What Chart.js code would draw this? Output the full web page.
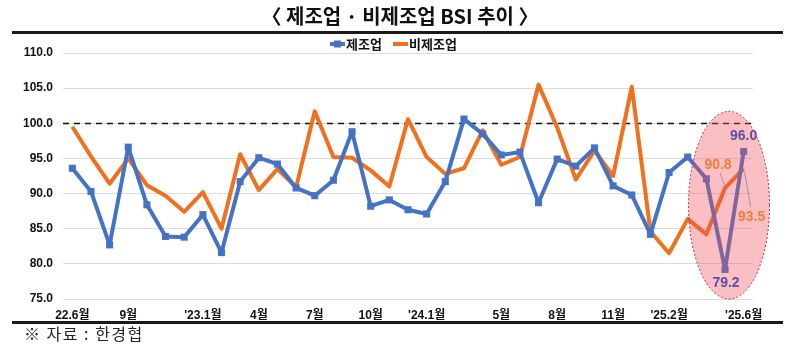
<!DOCTYPE html>
<html lang="ko">
<head>
<meta charset="utf-8">
<title>제조업 · 비제조업 BSI 추이</title>
<script src="https://cdn.jsdelivr.net/npm/chart.js@4/dist/chart.umd.min.js"></script>
<style>
  html, body { margin: 0; padding: 0; background: #fff; }
  #wrap { position: relative; width: 800px; height: 345px; }
</style>
</head>
<body>
<div id="wrap"><canvas id="bsi" width="800" height="345"></canvas></div>
<script>
// Monthly periods, June 2022 to June 2025
const months = [
  '2022-06','2022-07','2022-08','2022-09','2022-10','2022-11','2022-12',
  '2023-01','2023-02','2023-03','2023-04','2023-05','2023-06','2023-07',
  '2023-08','2023-09','2023-10','2023-11','2023-12','2024-01','2024-02',
  '2024-03','2024-04','2024-05','2024-06','2024-07','2024-08','2024-09',
  '2024-10','2024-11','2024-12','2025-01','2025-02','2025-03','2025-04',
  '2025-05','2025-06'
];

// Axis labels shown under the months (blank = no label)
const tickLabels = [
  '22.6월','','','9월','','','',
  "'23.1월",'','','4월','','','7월',
  '','','10월','','',"'24.1월",'',
  '','','5월','','','8월','',
  '','11월','','',"'25.2월",'','',
  '',"'25.6월"
];

const manufacturing = [
  93.6, 90.3, 82.7, 96.6, 88.4, 83.9, 83.8,
  87.0, 81.6, 91.7, 95.1, 94.2, 90.8, 89.7,
  91.9, 98.8, 88.2, 89.1, 87.7, 87.1, 91.7,
  100.6, 98.5, 95.5, 95.9, 88.7, 94.9, 93.9,
  96.5, 91.1, 89.8, 84.2, 93.0, 95.2, 92.1,
  79.2, 96.0
];

const nonManufacturing = [
  99.5, 95.3, 91.4, 95.0, 91.2, 89.7, 87.4,
  90.2, 85.0, 95.6, 90.5, 93.5, 90.9, 101.7,
  95.2, 95.1, 93.3, 91.0, 100.6, 95.2, 92.8,
  93.6, 99.0, 94.1, 95.2, 105.5, 99.4, 92.0,
  96.1, 92.5, 105.2, 84.6, 81.5, 86.4, 84.2,
  90.8, 93.5
];

const seriesNames = ['제조업', '비제조업'];
const yTicks = { min: 75, max: 110, step: 5 };
const baseline = 100;

const BLUE = '#4472C4';
const ORANGE = '#F0701E';
const PURPLE_TXT = '#5E4FA6';
const ORANGE_TXT = '#EE7E3A';
const NUM = "'Liberation Sans', 'Noto Sans CJK KR', sans-serif";
const KR = "'Noto Sans CJK KR', 'Noto Sans', sans-serif";

// Frame: title, rules, legend, footer
const framePlugin = {
  id: 'frame',
  afterDraw(chart) {
    const ctx = chart.ctx;
    ctx.save();
    // title
    ctx.fillStyle = '#111';
    ctx.font = 'bold 20px ' + KR;
    ctx.textAlign = 'center';
    ctx.textBaseline = 'middle';
    ctx.fillText('〈 제조업 · 비제조업 BSI 추이 〉', 400, 16);
    // rules
    ctx.fillStyle = '#1a1a1a';
    ctx.fillRect(12, 31, 771, 3);
    ctx.fillRect(12, 321, 771, 3);
    // legend
    const items = [
      { name: seriesNames[0], color: BLUE, x: 330, marker: true },
      { name: seriesNames[1], color: ORANGE, x: 393, marker: false }
    ];
    ctx.font = 'bold 13px ' + KR;
    ctx.textAlign = 'left';
    items.forEach(it => {
      ctx.strokeStyle = it.color;
      ctx.lineWidth = 4;
      ctx.beginPath();
      ctx.moveTo(it.x, 44);
      ctx.lineTo(it.x + 15, 44);
      ctx.stroke();
      if (it.marker) {
        ctx.fillStyle = it.color;
        ctx.fillRect(it.x + 4, 40.5, 7, 7);
      }
      ctx.fillStyle = '#111';
      ctx.fillText(it.name, it.x + 16, 44);
    });
    // footer
    ctx.fillStyle = '#222';
    ctx.font = '16px ' + KR;
    if ('letterSpacing' in ctx) ctx.letterSpacing = '1.5px';
    ctx.fillText('※ 자료 : 한경협', 24, 334);
    ctx.restore();
  }
};

// Dashed reference line at 100
const baselinePlugin = {
  id: 'baseline',
  beforeDatasetsDraw(chart) {
    const { ctx, chartArea, scales } = chart;
    const y = Math.round(scales.y.getPixelForValue(baseline)) + 0.5;
    ctx.save();
    ctx.strokeStyle = '#111';
    ctx.lineWidth = 1.6;
    ctx.setLineDash([6, 5]);
    ctx.beginPath();
    ctx.moveTo(chartArea.left, y);
    ctx.lineTo(chartArea.right + 2, y);
    ctx.stroke();
    ctx.restore();
  }
};

// Highlight of the latest months and their value labels
const highlightPlugin = {
  id: 'highlight',
  afterDatasetsDraw(chart) {
    const { ctx, scales } = chart;
    const n = months.length;
    const xA = scales.x.getPixelForValue(n - 3);
    const xB = scales.x.getPixelForValue(n - 1);
    const cx = (xA + xB) / 2 + 4;
    const top = scales.y.getPixelForValue(101.7);
    const bottom = scales.y.getPixelForValue(yTicks.min);
    const cy = (top + bottom) / 2;
    ctx.save();
    ctx.beginPath();
    ctx.ellipse(cx, cy, 40.5, (bottom - top) / 2, 0, 0, Math.PI * 2);
    ctx.fillStyle = 'rgba(240, 78, 88, 0.36)';
    ctx.fill();
    ctx.setLineDash([2, 2]);
    ctx.lineWidth = 1;
    ctx.strokeStyle = '#B3283A';
    ctx.stroke();
    ctx.setLineDash([]);

    const last = n - 1, prev = n - 2;
    const px = i => scales.x.getPixelForValue(i);
    const py = v => scales.y.getPixelForValue(v);

    ctx.font = 'bold 14px ' + NUM;
    ctx.textAlign = 'center';
    ctx.textBaseline = 'middle';

    // manufacturing labels
    ctx.fillStyle = PURPLE_TXT;
    ctx.fillText(manufacturing[last].toFixed(1), px(last), py(manufacturing[last]) - 15);
    ctx.fillText(manufacturing[prev].toFixed(1), px(prev) + 1, py(manufacturing[prev]) + 14);

    // non-manufacturing labels with leader lines
    ctx.strokeStyle = '#8a8a8a';
    ctx.lineWidth = 0.8;
    ctx.beginPath();
    ctx.moveTo(px(prev) - 5, py(nonManufacturing[prev]) - 15);
    ctx.lineTo(px(prev) - 0.5, py(nonManufacturing[prev]) - 3);
    ctx.moveTo(px(last) + 1, py(nonManufacturing[last]) + 3);
    ctx.lineTo(px(last) + 7, py(nonManufacturing[last]) + 38);
    ctx.stroke();
    ctx.fillStyle = ORANGE_TXT;
    ctx.fillText(nonManufacturing[prev].toFixed(1), px(prev) - 7, py(nonManufacturing[prev]) - 23);
    ctx.fillText(nonManufacturing[last].toFixed(1), px(last) + 8, py(nonManufacturing[last]) + 48);
    ctx.restore();
  }
};

new Chart(document.getElementById('bsi'), {
  type: 'line',
  data: {
    labels: months,
    datasets: [
      {
        label: seriesNames[1],
        data: nonManufacturing,
        borderColor: ORANGE,
        backgroundColor: ORANGE,
        borderWidth: 4,
        pointRadius: 0,
        tension: 0,
        borderJoinStyle: 'round',
        order: 2
      },
      {
        label: seriesNames[0],
        data: manufacturing,
        borderColor: BLUE,
        backgroundColor: BLUE,
        borderWidth: 4,
        pointStyle: 'rect',
        pointRadius: 5,
        pointBorderWidth: 0,
        tension: 0,
        borderJoinStyle: 'round',
        order: 1
      }
    ]
  },
  options: {
    responsive: false,
    animation: false,
    layout: { padding: { top: 53, right: 47, left: 0, bottom: 0 } },
    plugins: {
      legend: { display: false },
      title: { display: false },
      tooltip: { enabled: false }
    },
    scales: {
      x: {
        offset: true,
        grid: { display: false, drawTicks: false },
        border: { display: false },
        ticks: {
          autoSkip: false,
          maxRotation: 0,
          padding: 9,
          color: '#111',
          font: { family: NUM, size: 12, weight: 'bold' },
          callback: (v, i) => tickLabels[i]
        },
        afterFit(scale) { scale.height = 46; }
      },
      y: {
        min: yTicks.min,
        max: yTicks.max,
        grid: { color: '#dcdcdc', lineWidth: 1, drawTicks: false },
        border: { display: false },
        ticks: {
          stepSize: yTicks.step,
          padding: 10,
          color: '#111',
          font: { family: NUM, size: 12, weight: 'bold' },
          callback: v => v.toFixed(1)
        },
        afterFit(scale) { scale.width = 63; }
      }
    }
  },
  plugins: [framePlugin, baselinePlugin, highlightPlugin]
});
</script>
</body>
</html>
